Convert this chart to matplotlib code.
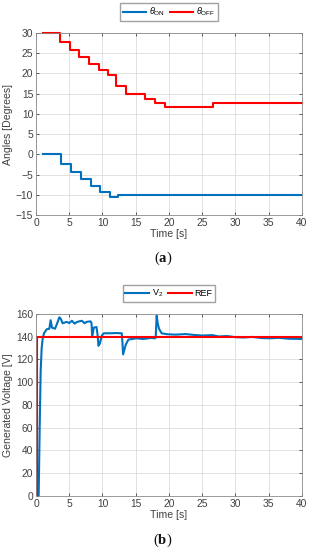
import matplotlib
matplotlib.use("Agg")
from matplotlib import pyplot as plt

# (a) firing angles, step signals (time where each level starts, level)
on_t = [1.0, 3.7, 5.2, 6.7, 8.2, 9.6, 11.1, 12.4, 40.0]
on_v = [0.0, -2.3, -4.3, -6.0, -7.8, -9.3, -10.5, -10.0, -10.0]
off_t = [1.0, 3.6, 5.1, 6.5, 8.0, 9.4, 10.8, 12.1, 13.6, 16.4, 17.9, 19.4, 26.6, 40.0]
off_v = [30.0, 27.8, 25.7, 24.0, 22.3, 20.8, 19.5, 17.0, 14.8, 13.8, 12.8, 11.8, 12.8, 12.8]

# (b) generated voltage and reference
v2_t = [0.4, 0.55, 0.7, 0.85, 1.0, 1.2, 1.6, 2.0, 2.2, 2.4, 2.86, 3.2, 3.5, 3.7, 4.0,
        4.6, 5.0, 5.4, 5.8, 6.1, 6.5, 6.9, 7.3, 7.6, 8.2, 8.35, 8.45, 8.7, 9.1, 9.25,
        9.4, 9.6, 9.9, 10.2, 11.1, 12.1, 12.9, 13.0, 13.1, 13.5, 13.9, 14.5, 15.1,
        16.0, 16.6, 17.3, 17.9, 18.0, 18.15, 18.3, 18.5, 18.9, 19.65, 21.0, 22.5,
        23.7, 25.0, 26.5, 27.5, 28.7, 30.0, 31.2, 32.5, 34.0, 35.2, 36.5, 38.0, 40.0]
v2_v = [0.0, 60.0, 110.0, 130.0, 138.0, 143.0, 146.5, 147.0, 154.5, 148.0, 147.0, 152.0,
        157.0, 156.0, 151.8, 153.0, 152.0, 154.0, 151.5, 152.7, 153.5, 154.0, 151.8, 153.0,
        153.5, 152.0, 140.0, 148.0, 148.5, 142.0, 132.0, 134.0, 141.0, 143.0, 143.0, 143.2,
        143.0, 135.0, 124.5, 133.0, 137.5, 138.0, 138.6, 138.0, 138.3, 139.0, 138.6, 139.0,
        158.5, 152.0, 147.0, 143.0, 142.2, 141.8, 142.3, 141.6, 141.0, 141.4, 140.2, 140.6,
        139.6, 139.3, 139.8, 138.8, 138.6, 139.0, 138.2, 138.0]
ref_t = [0.1, 0.1, 40.0]
ref_v = [0.0, 140.0, 140.0]

blue = '#0072BD'
red = '#FF0000'
grey = '#404040'

plt.rcParams['font.family'] = ['Liberation Sans', 'DejaVu Sans']
plt.rcParams['mathtext.fontset'] = 'custom'
plt.rcParams['mathtext.rm'] = 'Liberation Sans'
plt.rcParams['mathtext.it'] = 'Liberation Sans:italic'
plt.rcParams['mathtext.bf'] = 'Liberation Serif:bold'

fig = plt.figure(figsize=(3.11, 5.5), dpi=100)
ax1 = fig.add_axes([0.1158, 0.609, 0.855, 0.331])
ax2 = fig.add_axes([0.1158, 0.0982, 0.855, 0.331])


def style(ax):
    ax.grid(True, color='#dcdcdc', linewidth=0.6)
    ax.set_axisbelow(True)
    ax.tick_params(direction='in', length=2.5, width=0.6, labelsize=7.4,
                   colors=grey, top=True, right=True, labeltop=False,
                   labelright=False, pad=2)
    for s in ax.spines.values():
        s.set_color('#8a8a8a')
        s.set_linewidth(0.6)
    ax.set_xlim(0, 40)
    ax.set_xticks(range(0, 41, 5))
    ax.set_xlabel('Time [s]', fontsize=7.6, color=grey, labelpad=1)


def legend(ax):
    ax.legend(loc='lower center', bbox_to_anchor=(0.5, 1.065), ncol=2, fontsize=6.5,
              frameon=True, fancybox=False, edgecolor='#8a8a8a', handlelength=2.6,
              handletextpad=0.3, columnspacing=0.6, borderpad=0.3, borderaxespad=0)


ax1.step(on_t, on_v, where='post', color=blue, lw=1.5, label=r'$\theta_{\mathrm{ON}}$')
ax1.step(off_t, off_v, where='post', color=red, lw=1.5, label=r'$\theta_{\mathrm{OFF}}$',
         clip_on=False)
style(ax1)
ax1.set_ylim(-15, 30)
ax1.set_yticks(range(-15, 31, 5))
ax1.set_ylabel('Angles [Degrees]', fontsize=7.6, color=grey, labelpad=2)
legend(ax1)

ax2.plot(v2_t, v2_v, color=blue, lw=1.5, label=r'V$_2$')
ax2.plot(ref_t, ref_v, color=red, lw=1.5, label='REF')
style(ax2)
ax2.set_ylim(0, 160)
ax2.set_yticks(range(0, 161, 20))
ax2.set_ylabel('Generated Voltage [V]', fontsize=7.6, color=grey, labelpad=2)
legend(ax2)

fig.text(0.524, 0.531, r'($\mathbf{a}$)', ha='center', va='center', fontsize=10.5,
         family='Liberation Serif', color='#111111')
fig.text(0.524, 0.018, r'($\mathbf{b}$)', ha='center', va='center', fontsize=10.5,
         family='Liberation Serif', color='#111111')

fig.savefig('out.png', dpi=100)
